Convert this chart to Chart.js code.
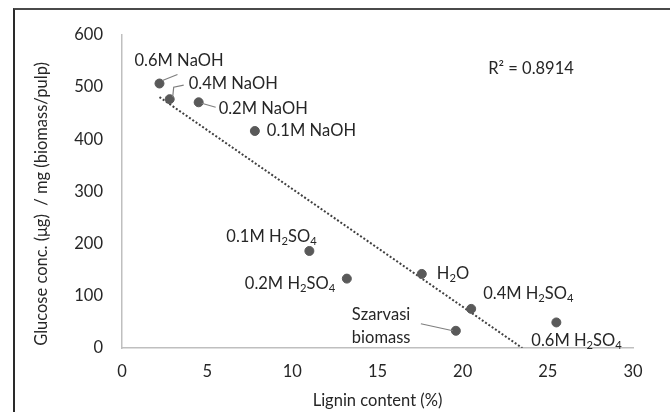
<!DOCTYPE html>
<html>
<head>
<meta charset="utf-8">
<script src="https://cdn.jsdelivr.net/npm/chart.js@4.4.1/dist/chart.umd.min.js"></script>
<style>
  html, body { margin: 0; padding: 0; background: #fff; }
  #wrap { position: relative; width: 670px; height: 412px; }
  #frame { position: absolute; left: 13px; top: 8px; right: 0; bottom: -4px;
           border-top: 2px solid #4a4a4a; border-left: 2px solid #2a2a2a; }
  canvas { position: absolute; left: 0; top: 0; }
</style>
</head>
<body>
<div id="wrap">
  <div id="frame"></div>
  <canvas id="myChart" width="670" height="412"></canvas>
</div>
<script>
const chart = document.getElementById("myChart");

// treatments, lignin content (%) and glucose conc.
const treatments = [
  "0.6M NaOH",
  "0.4M NaOH",
  "0.2M NaOH",
  "0.1M NaOH",
  "0.1M H₂SO₄",
  "0.2M H₂SO₄",
  "H₂O",
  "0.4M H₂SO₄",
  "Szarvasi\nbiomass",
  "0.6M H₂SO₄",
];
const lignin = [2.2, 2.8, 4.5, 7.8, 11.0, 13.2, 17.6, 20.5, 19.6, 25.5];
const glucose = [507, 477, 471, 416, 186, 133, 142, 75, 33, 49];

// linear trendline ends
const trendX = [2.2, 23.5];
const trendY = [481, 0];

const xTicks = [0, 5, 10, 15, 20, 25, 30];
const yTicks = [0, 100, 200, 300, 400, 500, 600];

const yTitle = "Glucose conc. (μg)  / mg (biomass/pulp)";

// where each label sits relative to its point (px), and leader lines
const labelPos = [
  { dx: -25, dy: -23, lead: [[3, -3], [18, -9]] },
  { dx: 19, dy: -15, lead: [[3, -2], [4, -12], [14, -14]] },
  { dx: 20, dy: 6, lead: [[3, 1], [17, 5]] },
  { dx: 12, dy: 0 },
  { dx: -83, dy: -14 },
  { dx: -102, dy: 5 },
  { dx: 15, dy: 0 },
  { dx: 12, dy: -15 },
  { dx: -104, dy: -16, lead: [[-35, -7], [-3, 0]] },
  { dx: -25, dy: 18 },
];

const FONT = "Lato, 'Open Sans', sans-serif";
const TEXT = "#262626";
const subs = { "₂": "2", "₄": "4" };

function drawLabel(ctx, text, x, y, size) {
  let cx = x;
  for (const ch of text) {
    if (subs[ch]) {
      ctx.font = (size * 0.68) + "px " + FONT;
      ctx.fillText(subs[ch], cx, y + size * 0.28);
      cx += ctx.measureText(subs[ch]).width;
    } else {
      ctx.font = size + "px " + FONT;
      ctx.fillText(ch, cx, y);
      cx += ctx.measureText(ch).width;
    }
  }
}

const pointLabels = {
  id: "pointLabels",
  afterDatasetsDraw(c) {
    const ctx = c.ctx;
    const meta = c.getDatasetMeta(0);
    ctx.save();
    ctx.fillStyle = TEXT;
    ctx.textBaseline = "middle";
    ctx.textAlign = "left";
    meta.data.forEach((pt, i) => {
      const p = labelPos[i];
      if (p.lead) {
        ctx.beginPath();
        ctx.strokeStyle = "#7f7f7f";
        ctx.lineWidth = 1.2;
        p.lead.forEach((q, k) => {
          if (k === 0) ctx.moveTo(pt.x + q[0], pt.y + q[1]);
          else ctx.lineTo(pt.x + q[0], pt.y + q[1]);
        });
        ctx.stroke();
      }
      treatments[i].split("\n").forEach((line, k) => {
        drawLabel(ctx, line, pt.x + p.dx, pt.y + p.dy + k * 23, 16.5);
      });
    });
    // R² text
    const xs = c.scales.x, ys = c.scales.y;
    ctx.font = "16.5px " + FONT;
    ctx.fillText("R² = 0.8914", xs.getPixelForValue(21.5), ys.getPixelForValue(536));

    // y axis title
    ctx.font = "16.5px " + FONT;
    ctx.textAlign = "center";
    ctx.translate(42, 204);
    ctx.rotate(-Math.PI / 2);
    ctx.fillText(yTitle, 0, 0);
    ctx.restore();
  },
};

new Chart(chart, {
  type: "scatter",
  data: {
    datasets: [
      {
        data: lignin.map((x, i) => ({ x: x, y: glucose[i] })),
        backgroundColor: "#595959",
        borderColor: "#595959",
        pointRadius: 4.5,
        pointHoverRadius: 4.5,
      },
      {
        type: "line",
        data: trendX.map((x, i) => ({ x: x, y: trendY[i] })),
        borderColor: "#404040",
        borderWidth: 2,
        borderDash: [2, 2],
        pointRadius: 0,
        fill: false,
      },
    ],
  },
  options: {
    responsive: false,
    animation: false,
    layout: { padding: { top: 35, right: 37, left: 0, bottom: 0 } },
    scales: {
      x: {
        type: "linear",
        min: 0,
        max: 30,
        afterBuildTicks: (s) => { s.ticks = xTicks.map((v) => ({ value: v })); },
        afterFit: (s) => { s.height = 64; },
        grid: { display: false, drawTicks: false },
        border: { display: true, color: "#bfbfbf", width: 1.5 },
        ticks: { padding: 14, color: TEXT, font: { family: FONT, size: 16.5 } },
        title: {
          display: true,
          text: "Lignin content (%)",
          color: TEXT,
          font: { family: FONT, size: 16.5 },
          padding: { top: 0, bottom: 1 },
        },
      },
      y: {
        min: 0,
        max: 600,
        afterBuildTicks: (s) => { s.ticks = yTicks.map((v) => ({ value: v })); },
        afterFit: (s) => { s.width = 122; },
        grid: { display: false, drawTicks: false },
        border: { display: true, color: "#bfbfbf", width: 1.5 },
        ticks: { padding: 19, color: TEXT, font: { family: FONT, size: 16.5 } },
        title: { display: false },
      },
    },
    plugins: {
      legend: { display: false },
      tooltip: { enabled: false },
    },
  },
  plugins: [pointLabels],
});
</script>
</body>
</html>
